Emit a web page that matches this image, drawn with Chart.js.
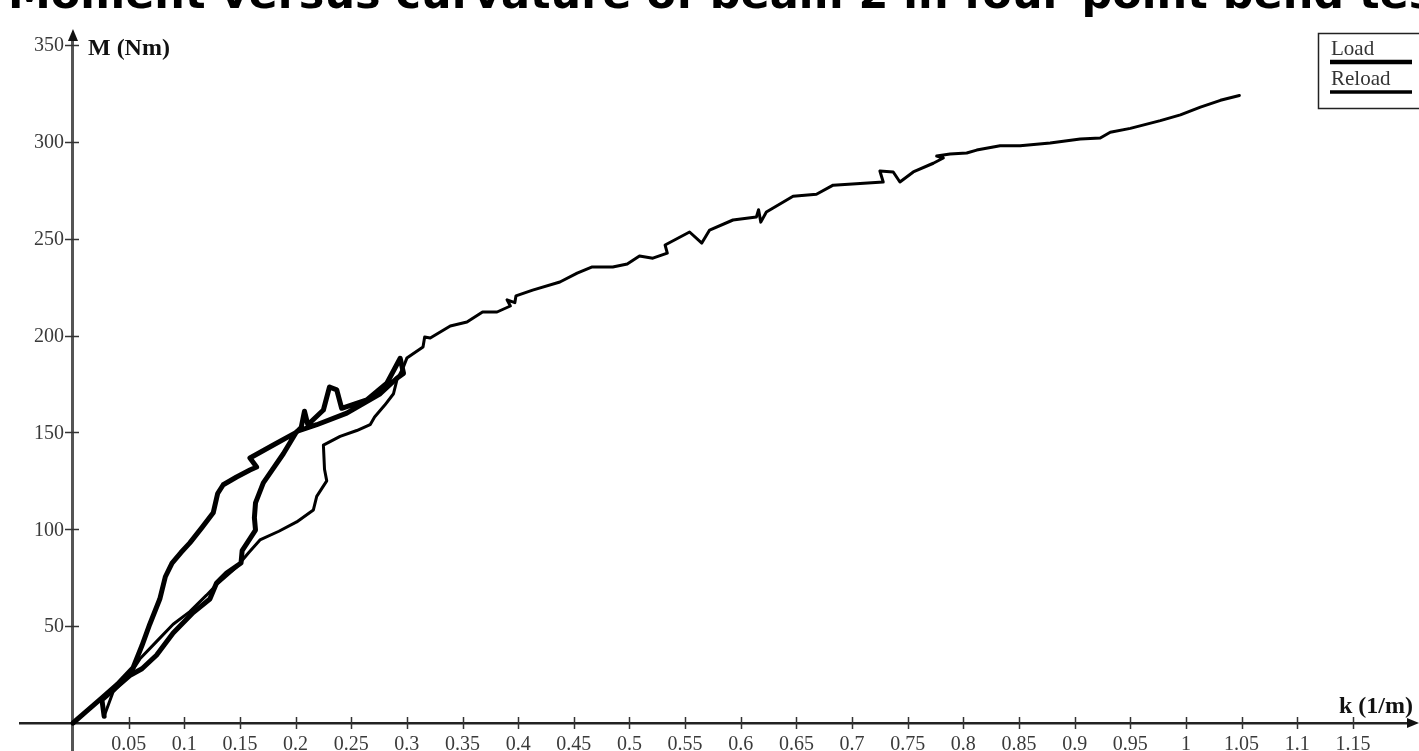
<!DOCTYPE html>
<html>
<head>
<meta charset="utf-8">
<title>Moment versus curvature</title>
<script src="https://cdn.jsdelivr.net/npm/chart.js@4.4.1/dist/chart.umd.min.js"></script>
<style>
    html, body { margin: 0; padding: 0; background: #fff; overflow: hidden; }
    #wrap { position: relative; width: 1419px; height: 751px; }
    #mk { display: block; }
    #title {
        position: absolute; left: 8px; top: -28px; margin: 0; z-index: 2;
        font: bold 43px "DejaVu Sans", Verdana, sans-serif; line-height: 1;
        white-space: nowrap; color: #000;
    }
</style>
</head>
<body>
<div id="wrap">
    <h1 id="title">Moment versus curvature of beam 2 in four-point bend test</h1>
    <canvas id="mk" width="1419" height="751"></canvas>
</div>
<script>
var xTicks = [0.05, 0.1, 0.15, 0.2, 0.25, 0.3, 0.35, 0.4, 0.45, 0.5, 0.55, 0.6, 0.65, 0.7, 0.75, 0.8, 0.85, 0.9, 0.95, 1, 1.05, 1.1, 1.15];
var yTicks = [50, 100, 150, 200, 250, 300, 350];

// Load (thick): loading up the upper branch, then unloading back down
var loadK = [0, 0.012, 0.026, 0.04, 0.054, 0.062, 0.069, 0.078, 0.083, 0.089, 0.097, 0.105, 0.116, 0.126, 0.13, 0.135,
    0.147, 0.159, 0.165, 0.159, 0.18, 0.201, 0.205, 0.208, 0.211, 0.225, 0.2305, 0.237, 0.2414, 0.264, 0.282, 0.294,
    0.297, 0.291, 0.276, 0.246, 0.219, 0.201, 0.189, 0.171, 0.164, 0.163, 0.164, 0.152, 0.151, 0.138, 0.129, 0.123,
    0.108, 0.09, 0.075, 0.062, 0.051, 0.038, 0.026, 0.028];
var loadM = [0, 6, 13, 20, 28.5, 40, 51, 64, 75.5, 82.5, 88, 93, 101, 108.5, 118.5, 123,
    127, 130.6, 132.2, 136.8, 143.5, 150.2, 152.5, 161, 154, 161.6, 173.5, 172, 162.5, 166.8, 175.4, 188.3,
    180.5, 178, 170, 160, 154, 150.5, 139, 124, 113.6, 106, 99.6, 89, 82.6, 77.4, 72.3, 64,
    57, 46.5, 35, 28, 24.5, 18, 12, 3.5];

// Reload (thin)
var reloadK = [0.028, 0.036, 0.051, 0.06, 0.075, 0.09, 0.105, 0.12, 0.13, 0.138, 0.147, 0.158, 0.168, 0.185, 0.201,
    0.216, 0.219, 0.228, 0.226, 0.225, 0.24, 0.255, 0.267, 0.271, 0.28, 0.288, 0.291, 0.297, 0.3, 0.3145, 0.316, 0.321,
    0.339, 0.354, 0.368, 0.381, 0.393, 0.39, 0.397, 0.398, 0.413, 0.4375, 0.453, 0.466, 0.485, 0.498, 0.509, 0.521,
    0.534, 0.532, 0.554, 0.565, 0.572, 0.593, 0.614, 0.616, 0.618, 0.623, 0.647, 0.668, 0.683, 0.728, 0.725, 0.737,
    0.743, 0.755, 0.773, 0.782, 0.776, 0.788, 0.803, 0.812, 0.833, 0.851, 0.878, 0.905, 0.923, 0.932, 0.95, 0.977,
    0.995, 1.013, 1.031, 1.048];
var reloadM = [3.5, 16, 25, 33, 42, 51, 57.5, 66, 72, 76, 80.5, 88, 94.5, 99, 103.8,
    110, 117, 125, 131, 143.5, 148, 151, 154, 158, 164, 170, 177, 184, 188.4, 194.1, 199.3, 198.8,
    205, 207, 212.2, 212.2, 215.3, 218.5, 217, 220.5, 223.5, 227.7, 232.3, 235.4, 235.4, 237, 241.1, 240,
    242.6, 246.8, 253.5, 247.8, 254.5, 259.7, 261.2, 265, 258.6, 263.8, 272, 273, 277.7, 279.3, 285, 284.5,
    279.3, 284.5, 289, 291.7, 292.7, 293.8, 294.3, 295.8, 298, 298, 299.5, 301.5, 302, 305, 307, 311,
    314, 318, 321.5, 324];

function pts(ks, ms) {
    return ks.map(function (k, i) { return { x: k, y: ms[i] }; });
}

var tickFont = { family: 'Liberation Serif', size: 20 };

// crossing tick marks, y labels, arrows, axis names and the legend box
var decor = {
    id: 'decor',
    afterDraw: function (chart) {
        var c = chart.ctx;
        var area = chart.chartArea;
        var sx = chart.scales.x, sy = chart.scales.y;
        var ox = sx.getPixelForValue(0);
        var oy = sy.getPixelForValue(0);
        c.save();
        c.strokeStyle = '#333';
        c.lineWidth = 1.5;
        xTicks.forEach(function (v) {
            var px = Math.round(sx.getPixelForValue(v)) + 0.5;
            c.beginPath(); c.moveTo(px, oy - 6); c.lineTo(px, oy + 6); c.stroke();
        });
        yTicks.forEach(function (v) {
            var py = Math.round(sy.getPixelForValue(v)) + 0.5;
            c.beginPath(); c.moveTo(ox - 8, py); c.lineTo(ox + 6, py); c.stroke();
        });
        c.fillStyle = '#3a3a3a';
        c.font = '20px "Liberation Serif"';
        c.textAlign = 'right';
        c.textBaseline = 'middle';
        yTicks.forEach(function (v) {
            c.fillText(String(v), ox - 9, sy.getPixelForValue(v) + 1);
        });
        // arrow heads
        c.fillStyle = '#111';
        c.beginPath();
        c.moveTo(ox, area.top - 7);
        c.lineTo(ox - 5, area.top + 5);
        c.lineTo(ox + 5, area.top + 5);
        c.closePath();
        c.fill();
        c.beginPath();
        c.moveTo(area.right + 7, oy);
        c.lineTo(area.right - 5, oy - 5);
        c.lineTo(area.right - 5, oy + 5);
        c.closePath();
        c.fill();
        // axis names
        c.font = 'bold 24px "Liberation Serif"';
        c.textBaseline = 'alphabetic';
        c.textAlign = 'left';
        c.fillText('M (Nm)', ox + 15, 55);
        c.textAlign = 'right';
        c.fillText('k (1/m)', 1413, 713);
        // legend box
        c.strokeStyle = '#222';
        c.lineWidth = 1.5;
        c.strokeRect(1318.5, 33.5, 110, 75);
        c.fillStyle = '#333';
        c.font = '21px "Liberation Serif"';
        c.textAlign = 'left';
        c.fillText('Load', 1331, 55);
        c.fillText('Reload', 1331, 85);
        c.strokeStyle = '#000';
        c.lineWidth = 4.5;
        c.beginPath(); c.moveTo(1330, 62); c.lineTo(1412, 62); c.stroke();
        c.lineWidth = 3.5;
        c.beginPath(); c.moveTo(1330, 92); c.lineTo(1412, 92); c.stroke();
        c.restore();
    }
};

new Chart(document.getElementById('mk').getContext('2d'), {
    type: 'line',
    data: {
        datasets: [
            {
                label: 'Load',
                data: pts(loadK, loadM),
                borderColor: '#000',
                borderWidth: 5,
                pointRadius: 0,
                tension: 0,
                borderJoinStyle: 'round',
                borderCapStyle: 'round'
            },
            {
                label: 'Reload',
                data: pts(reloadK, reloadM),
                borderColor: '#000',
                borderWidth: 3,
                pointRadius: 0,
                tension: 0,
                borderJoinStyle: 'round',
                borderCapStyle: 'round'
            }
        ]
    },
    options: {
        responsive: false,
        animation: false,
        layout: { padding: { left: 20, right: 7, top: 36, bottom: 0 } },
        plugins: {
            legend: { display: false },
            tooltip: { enabled: false }
        },
        scales: {
            x: {
                type: 'linear',
                axis: 'x',
                position: { y: 0 },
                min: -0.0476,
                max: 1.2031,
                afterBuildTicks: function (s) { s.ticks = xTicks.map(function (v) { return { value: v }; }); },
                grid: { display: false },
                border: { display: true, color: '#222', width: 2.5 },
                ticks: {
                    color: '#3a3a3a', font: tickFont, padding: 2, autoSkip: false, maxRotation: 0,
                    callback: function (v) { return String(v); }
                }
            },
            y: {
                type: 'linear',
                axis: 'y',
                position: { x: 0 },
                min: -14.46,
                max: 354.7,
                grid: { display: false },
                border: { display: true, color: '#555', width: 3 },
                ticks: { display: false }
            }
        }
    },
    plugins: [decor]
});
</script>
</body>
</html>
